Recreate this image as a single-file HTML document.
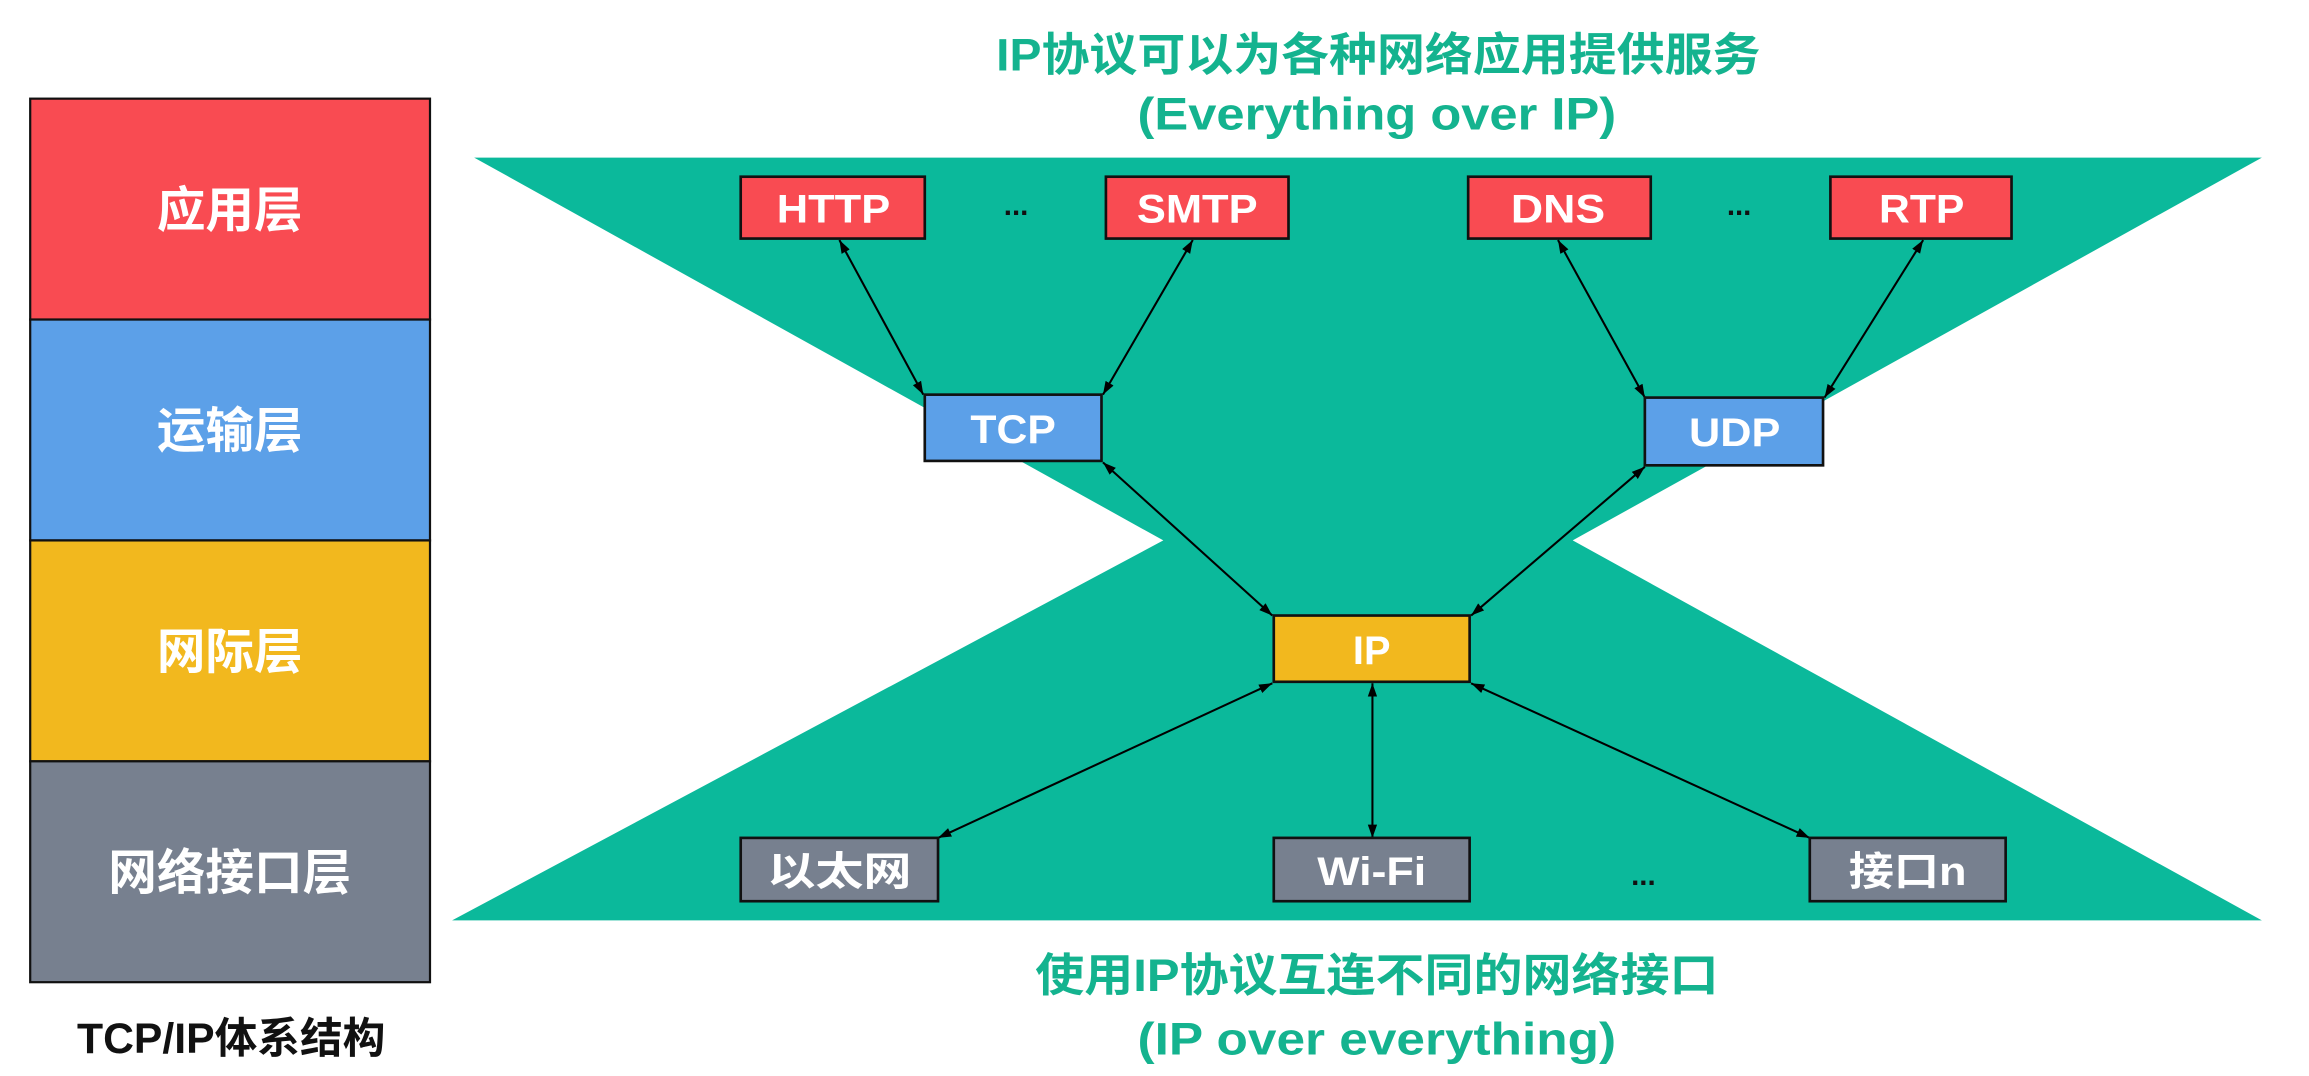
<!DOCTYPE html>
<html><head><meta charset="utf-8"><style>
html,body{margin:0;padding:0;background:#fff;}
svg{display:block;}
text{font-family:"Liberation Sans","Noto Sans CJK SC",sans-serif;font-weight:bold;}
</style></head><body>
<svg width="2309" height="1076" viewBox="0 0 1568 730.7" xmlns="http://www.w3.org/2000/svg">
<defs>
<marker id="a" viewBox="0 0 10 10" refX="10" refY="5" markerWidth="9" markerHeight="9" orient="auto-start-reverse" markerUnits="userSpaceOnUse">
<path d="M0,1.5 L10,5 L0,8.5 z" fill="#000"/></marker>
</defs>
<rect width="1568" height="731" fill="#fff"/>
<g stroke="#111" stroke-width="1.5">
<rect x="20.5" y="67" width="271.5" height="150" fill="#f94b52"/>
<rect x="20.5" y="217" width="271.5" height="150" fill="#5ca0e8"/>
<rect x="20.5" y="367" width="271.5" height="150" fill="#f2b81e"/>
<rect x="20.5" y="517" width="271.5" height="150" fill="#77808f"/>
</g>
<g fill="#fff" font-size="33" text-anchor="middle">
<text x="156" y="154">应用层</text>
<text x="156" y="304">运输层</text>
<text x="156" y="454">网际层</text>
<text x="156" y="604">网络接口层</text>
</g>
<text x="157" y="715" font-size="29" text-anchor="middle" fill="#111">TCP/IP体系结构</text>
<polygon points="322,107 1536,107 1068,367 1536,625 307,625 790,367" fill="#0bb99b"/>
<g fill="#14b38f" font-size="31" text-anchor="middle" lengthAdjust="spacingAndGlyphs">
<text x="936" y="48" textLength="519" lengthAdjust="spacingAndGlyphs">IP协议可以为各种网络应用提供服务</text>
<text x="935" y="88" textLength="325" lengthAdjust="spacingAndGlyphs">(Everything over IP)</text>
<text x="935" y="673" textLength="464" lengthAdjust="spacingAndGlyphs">使用IP协议互连不同的网络接口</text>
<text x="935" y="716" textLength="325" lengthAdjust="spacingAndGlyphs">(IP over everything)</text>
</g>
<g stroke="#000" stroke-width="1.4" fill="none" marker-start="url(#a)" marker-end="url(#a)">
<line x1="570" y1="163" x2="627" y2="268"/>
<line x1="810" y1="163" x2="749" y2="268"/>
<line x1="1058" y1="163" x2="1117" y2="270"/>
<line x1="1306" y1="163" x2="1239" y2="270"/>
<line x1="749" y1="314" x2="864" y2="418"/>
<line x1="1117" y1="317" x2="999" y2="418"/>
<line x1="864" y1="464" x2="637" y2="569"/>
<line x1="932" y1="464" x2="932" y2="569"/>
<line x1="999" y1="464" x2="1229" y2="569"/>
</g>
<g stroke="#111" stroke-width="1.8">
<rect x="503" y="120" width="125" height="42" fill="#f94b52"/>
<rect x="751" y="120" width="124" height="42" fill="#f94b52"/>
<rect x="997" y="120" width="124" height="42" fill="#f94b52"/>
<rect x="1243" y="120" width="123" height="42" fill="#f94b52"/>
<rect x="628" y="268" width="120" height="45" fill="#5ca0e8"/>
<rect x="1117" y="270" width="121" height="46" fill="#5ca0e8"/>
<rect x="865" y="418" width="133" height="45" fill="#f2b81e"/>
<rect x="503" y="569" width="134" height="43" fill="#77808f"/>
<rect x="865" y="569" width="133" height="43" fill="#77808f"/>
<rect x="1229" y="569" width="133" height="43" fill="#77808f"/>
</g>
<g fill="#fff" font-size="27" text-anchor="middle">
<text x="566" y="151" textLength="77" lengthAdjust="spacingAndGlyphs">HTTP</text>
<text x="813" y="151" textLength="82" lengthAdjust="spacingAndGlyphs">SMTP</text>
<text x="1058" y="151" textLength="64" lengthAdjust="spacingAndGlyphs">DNS</text>
<text x="1305" y="151" textLength="58" lengthAdjust="spacingAndGlyphs">RTP</text>
<text x="688" y="301" textLength="58" lengthAdjust="spacingAndGlyphs">TCP</text>
<text x="1178" y="303" textLength="62" lengthAdjust="spacingAndGlyphs">UDP</text>
<text x="931.5" y="451">IP</text>
<text x="570" y="601" textLength="98" lengthAdjust="spacingAndGlyphs">以太网</text>
<text x="931.5" y="601" textLength="74" lengthAdjust="spacingAndGlyphs">Wi-Fi</text>
<text x="1295.5" y="601" textLength="80" lengthAdjust="spacingAndGlyphs">接口n</text>
</g>
<g fill="#111" font-size="20" text-anchor="middle">
<text x="690" y="146">...</text>
<text x="1181" y="146">...</text>
<text x="1116" y="601">...</text>
</g>
</svg>
</body></html>
